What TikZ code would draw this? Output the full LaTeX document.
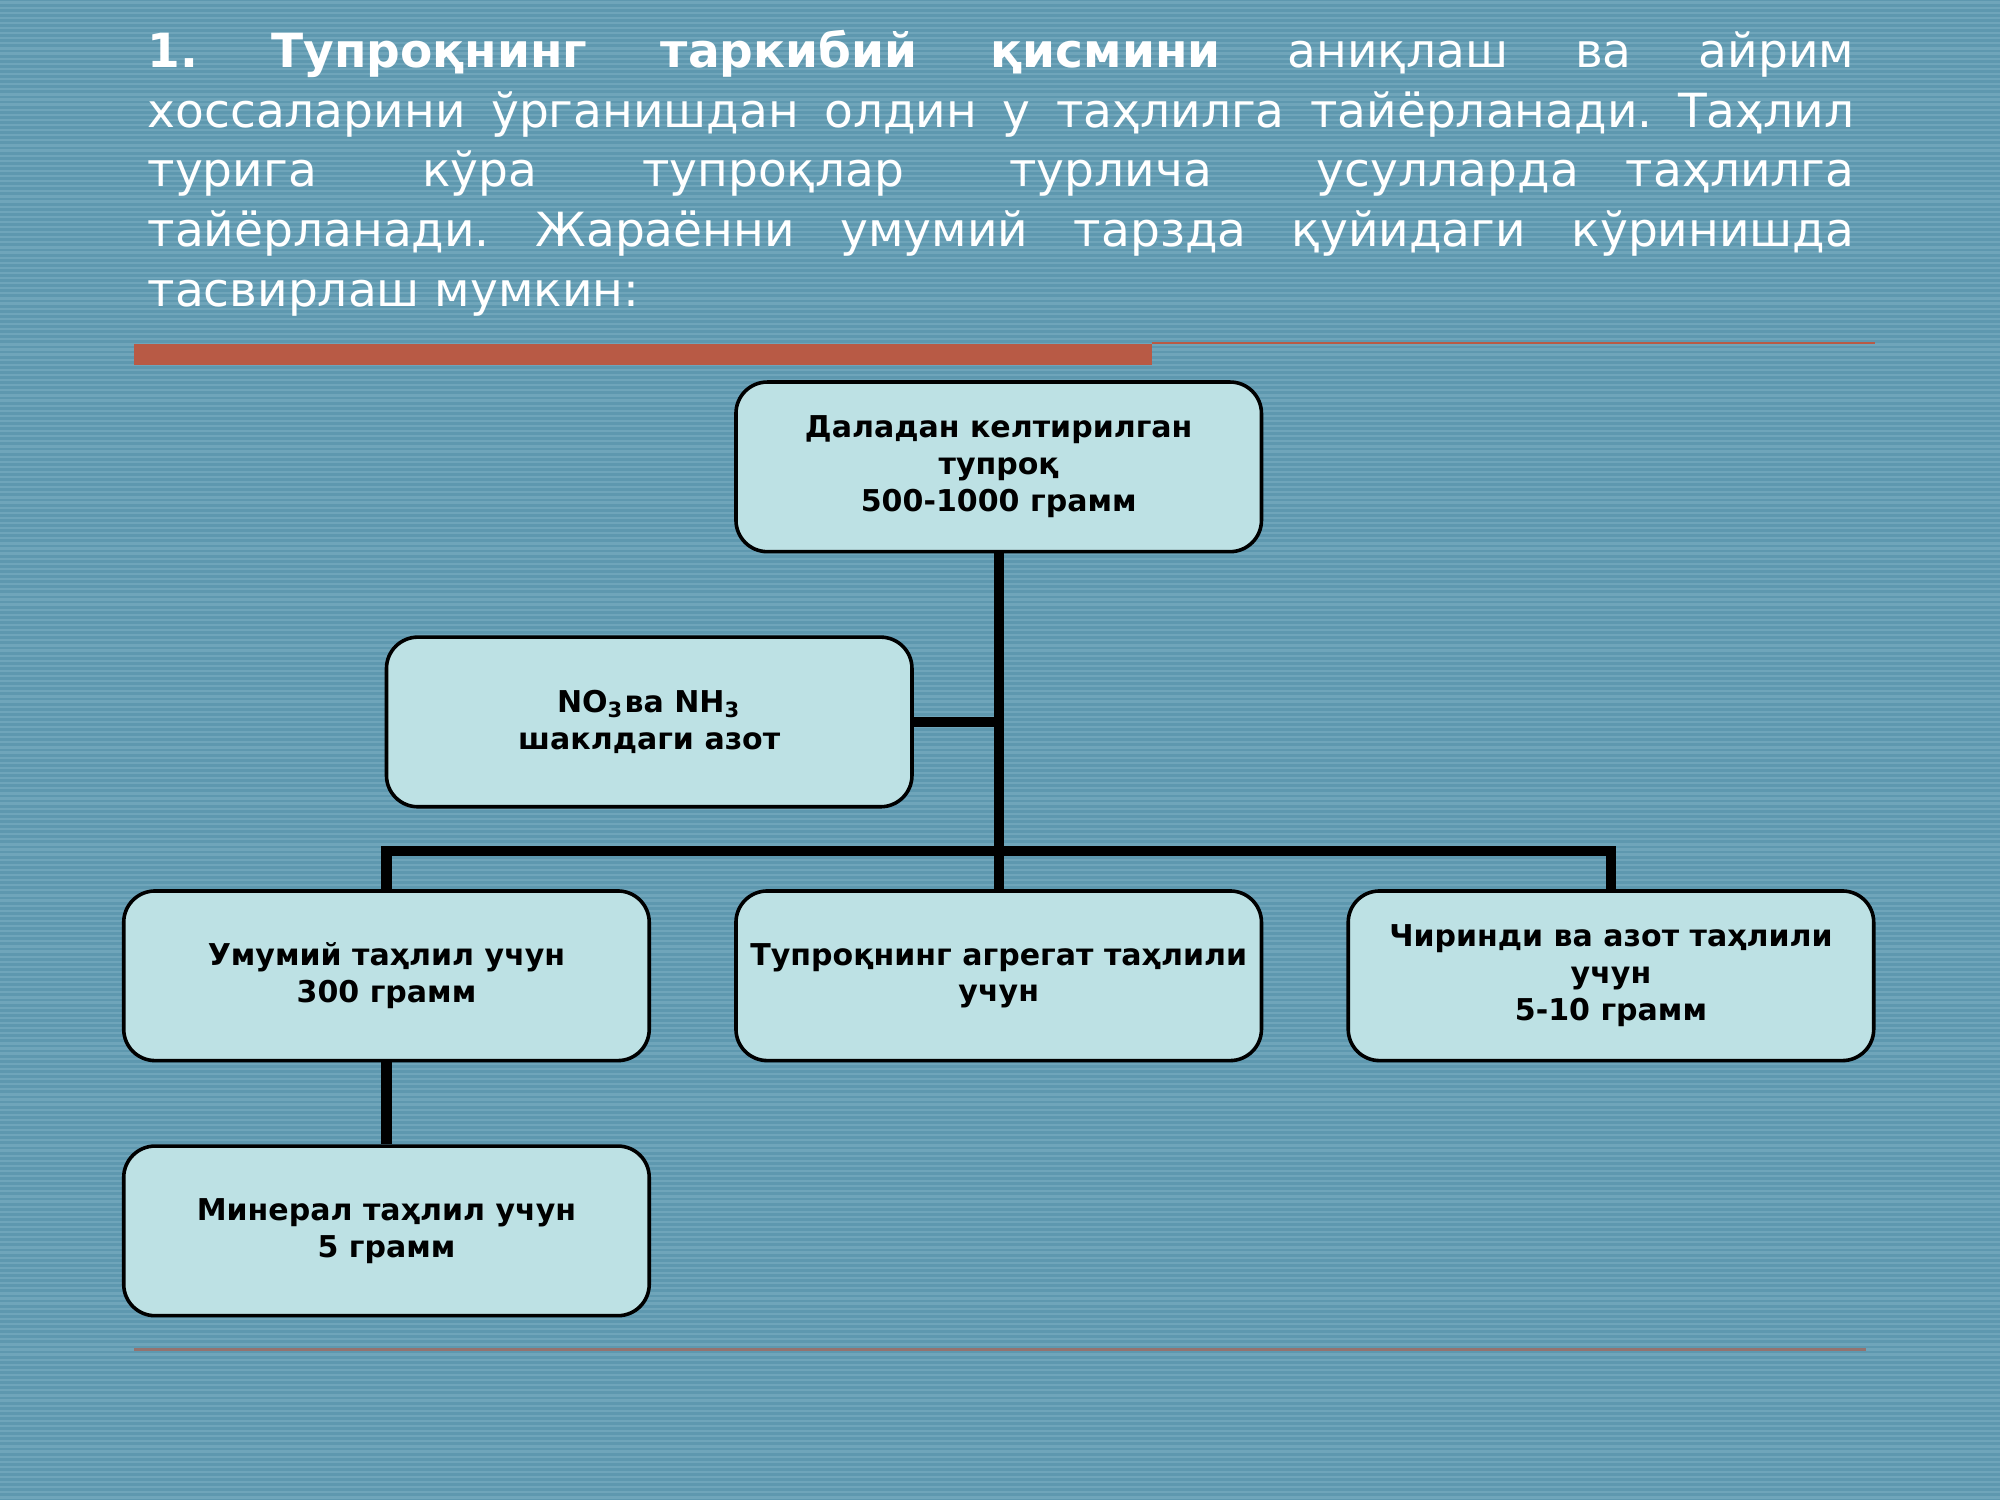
\documentclass[tikz,border=0pt]{standalone}
\usepackage{fontspec}
\setmainfont{DejaVu Sans}
\usetikzlibrary{positioning}
\frenchspacing
\definecolor{slidebg}{HTML}{5E98AF}
\definecolor{stripe}{HTML}{6FA5BA}
\definecolor{boxfill}{HTML}{BDE1E4}
\definecolor{barred}{HTML}{B85A45}
\tikzset{
  stage/.style={draw=black, thick, fill=boxfill, rounded corners=7pt,
    minimum width=41.2mm, minimum height=13.3mm, align=center,
    font=\fontsize{6.7}{8.2}\selectfont\bfseries, inner sep=2pt},
  link/.style={line width=2.3pt, black}
}
\begin{document}
\begin{tikzpicture}[x=0.1mm,y=-0.1mm]
\useasboundingbox (0,0) rectangle (1568,1176);
\fill [slidebg] (0,0) rectangle (1568,1176);
\foreach \y in {2,6,...,1174}
  \draw [stripe, line width=0.5pt] (0,\y) -- (1568,\y);

% header text
\node [anchor=north west, text=white, text width=133.8mm, align=justify, inner sep=0pt,
  font=\fontsize{10.5}{13.3}\selectfont] (intro) at (115,23)
  {\textbf{1. Тупроқнинг таркибий қисмини} аниқлаш ва айрим\linebreak хоссаларини ўрганишдан олдин у таҳлилга тайёрланади. Таҳлил\linebreak турига кўра тупроқлар турлича усулларда\quad таҳлилга\linebreak тайёрланади. Жараённи умумий тарзда қуйидаги кўринишда\linebreak тасвирлаш мумкин:};
\fill [barred] (105,270) rectangle (903,286);
\draw [barred, line width=0.6pt] (903,269) -- (1470,269);
\draw [barred!60!slidebg, line width=0.8pt] (105,1058) -- (1463,1058);

% boxes
\node [stage] (soil) at (783,366) {Даладан келтирилган\\тупроқ\\500-1000 грамм};
\node [stage] (nitro) at (509,566) {NO\textsubscript{3}ва NH\textsubscript{3}\\шаклдаги азот};
\node [stage] (general) at (303,765) {Умумий таҳлил учун\\300 грамм};
\node [stage] (aggr) at (783,765) {Тупроқнинг агрегат таҳлили\\учун};
\node [stage] (humus) at (1263,765) {Чиринди ва азот таҳлили\\учун\\5-10 грамм};
\node [stage] (mineral) at (303,965) {Минерал таҳлил учун\\5 грамм};

% connectors
\coordinate (split) at (783,667);
\draw [link] (soil.south) -- (aggr.north);
\draw [link] (nitro.east) -- (nitro.east -| soil.south);
\draw [link] (general.north) |- (split) -| (humus.north);
\draw [link] (general.south) -- (mineral.north);
\end{tikzpicture}
\end{document}
